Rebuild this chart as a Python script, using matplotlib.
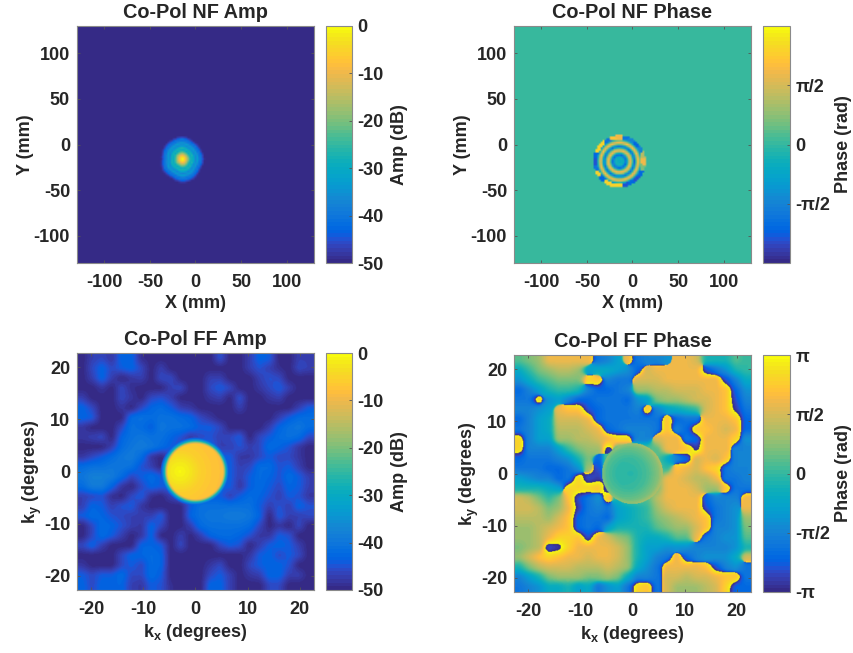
import numpy as np
import matplotlib
matplotlib.use("Agg")
import matplotlib.pyplot as plt
from matplotlib.colors import ListedColormap

plt.rcParams["font.family"] = ["Liberation Sans", "DejaVu Sans"]
plt.rcParams["font.weight"] = "bold"
plt.rcParams["axes.unicode_minus"] = False
plt.rcParams["mathtext.fontset"] = "custom"
plt.rcParams["mathtext.rm"] = "Liberation Sans:bold"
plt.rcParams["mathtext.bf"] = "Liberation Sans:bold"
plt.rcParams["mathtext.default"] = "bf"

# ---------- values ----------
nf_ticks = [-100, -50, 0, 50, 100]
ff_ticks = [-20, -10, 0, 10, 20]
amp_ticks = [-50, -40, -30, -20, -10, 0]

# far-field amplitude background: attenuation in dB, rows top to bottom
ff_amp_atten = [
 [50,47,46,48,43,43,49,50,50,50,50,50,50,50,45,50,50,47,43,44,50,50,47,47],
 [50,46,43,46,44,43,46,50,47,50,50,50,50,50,50,50,50,47,45,47,49,50,46,47],
 [50,47,43,47,50,48,47,50,46,46,50,50,50,47,47,50,50,50,47,45,46,50,50,50],
 [50,50,48,50,46,49,50,50,50,47,46,50,50,46,44,46,50,50,48,46,44,47,50,50],
 [47,50,50,50,46,48,50,46,45,47,50,50,50,48,47,50,45,50,50,48,47,50,50,50],
 [43,46,50,50,48,50,46,43,42,44,47,48,50,50,50,50,47,50,50,50,50,50,47,44],
 [43,44,50,50,50,42,41,42,41,41,42,43,46,48,50,50,50,50,50,50,47,44,42,42],
 [48,50,50,50,46,41,42,44,40,41,41,42,44,44,46,50,50,50,50,47,43,41,40,42],
 [48,47,46,50,43,41,40,41,41,43,45,48,46,45,47,46,44,50,46,44,42,41,42,46],
 [50,50,50,47,42,40,39,40,42,44,46,44,42,43,47,47,45,47,46,42,43,45,48,50],
 [48,46,44,42,40,39,42,48,50,46,44,44,44,44,44,44,48,48,46,44,46,46,48,50],
 [42,41,41,40,40,41,45,47,50,46,44,44,44,44,44,44,47,46,42,42,45,44,47,50],
 [40,38,38,39,42,46,44,42,44,43,44,44,44,44,44,44,47,44,42,43,45,42,44,47],
 [42,39,39,43,48,50,46,43,44,44,44,44,44,44,44,44,48,44,42,44,46,43,44,47],
 [47,46,45,49,50,46,44,49,50,47,44,44,44,44,44,47,44,42,43,45,47,44,45,48],
 [47,43,44,47,45,44,48,50,50,50,50,44,41,41,41,41,41,41,44,47,45,47,43,45],
 [44,42,43,45,46,47,47,47,44,50,50,43,41,40,40,39,39,40,43,50,44,47,47,46],
 [50,46,42,43,45,47,48,43,46,50,50,47,42,41,41,41,41,42,46,50,48,50,46,50],
 [50,46,42,44,47,50,48,43,50,50,47,50,47,43,42,42,43,45,48,48,44,45,50,50],
 [46,43,47,50,50,50,43,43,44,50,46,50,50,50,46,44,45,50,47,44,43,44,47,50],
 [50,50,50,50,46,43,43,42,43,50,50,50,50,50,50,50,50,48,44,43,46,44,46,50],
 [48,50,50,50,46,44,46,42,43,50,50,50,50,48,46,50,50,46,44,43,43,45,50,50],
 [44,46,44,44,42,46,46,42,44,50,50,50,50,46,44,47,50,48,47,43,43,47,47,50],
 [43,46,43,43,43,47,48,44,45,49,50,50,50,43,43,47,50,50,50,46,46,50,50,50],
]
# far-field main lobe: edge roll-off and plateau (dB)
lobe_radius = [0.0, 5.3, 5.6, 5.9, 6.2, 6.6, 7.3]
lobe_rolloff = [0.0, 0.0, -10.0, -22.0, -32.0, -40.0, -60.0]
hotspot_dist = [0.0, 2.0, 4.0, 6.0, 8.0, 11.0]
hotspot_db = [-0.5, -2.5, -5.5, -7.0, -8.0, -9.0]

# far-field phase background: tenths of pi, rows top to bottom
ff_phase_tenths = [
 [1,2,3,6,6,6,6,6,-6,-5,-3,6,-6,-5,-5,-4,6,6,5,-1,-1,-1,1,0],
 [-2,0,2,3,4,4,3,-3,-2,-2,-3,-4,-7,5,6,6,6,6,6,-8,-6,-4,-1,0],
 [-4,-2,0,1,2,2,2,8,7,-5,-6,-6,5,5,5,6,6,6,6,6,6,-8,-5,-2],
 [-7,-5,-3,-1,0,0,-1,-5,-7,-7,-6,-5,3,3,4,4,5,5,5,6,6,7,-7,-4],
 [-6,-6,8,-4,-3,-5,-7,-7,-6,-6,-6,-7,-4,-3,2,3,3,4,5,5,6,7,-8,-5],
 [-5,-5,-4,-3,6,7,7,-8,-7,-6,-6,-6,-5,7,-5,-3,-2,-1,0,5,6,7,-9,-6],
 [-7,-5,-3,-2,5,5,5,6,-7,-6,-6,-6,-6,-6,-6,7,-7,-6,-6,6,6,6,7,-7],
 [-6,-5,-3,-2,4,4,4,5,6,-7,-6,-5,-5,-5,-6,7,-5,-7,7,7,6,5,6,-7],
 [8,-5,-3,-3,3,3,4,4,5,6,8,8,-5,-5,5,6,6,-6,-7,6,6,6,8,-4],
 [8,-5,-5,-5,-3,0,2,3,3,-9,1,1,1,1,1,6,6,7,-9,6,6,6,-5,-5],
 [-7,-6,-6,-6,-5,-4,-1,2,-7,1,1,1,1,1,1,-2,-5,-7,5,6,5,7,-5,-5],
 [-6,-6,-6,-7,-7,-6,-4,3,-8,1,1,1,1,1,1,0,7,6,5,7,8,-6,-5,-5],
 [-3,-4,-5,-5,-7,-6,8,-8,-9,0,0,1,1,1,2,6,6,5,4,4,6,-6,-6,-5],
 [-1,-1,-1,-2,-3,8,8,8,7,-8,1,1,1,1,2,6,6,6,5,3,3,7,-6,-6],
 [5,4,2,0,2,7,-8,-6,-4,7,-1,1,1,1,4,6,6,6,6,-7,-5,-5,-5,6],
 [5,5,4,2,3,6,-9,-6,-5,-6,-3,-2,-1,0,3,5,6,6,6,-8,-6,-5,-4,6],
 [4,4,4,3,5,7,-7,-6,-6,-7,-3,-2,-1,0,2,3,4,5,6,7,-6,-5,-4,3],
 [3,3,4,5,6,7,-7,-6,-7,-3,-1,-1,-1,-1,1,2,3,3,5,7,-5,-5,-4,2],
 [3,3,4,6,8,8,7,-8,6,5,3,2,-1,-2,-2,-1,1,1,6,-6,-5,-4,-4,1],
 [2,3,4,-8,-9,8,6,6,6,6,5,3,-1,-3,-3,-4,-4,-4,-5,-5,-5,-5,-4,-1],
 [3,5,7,8,7,6,6,5,6,6,5,3,-1,-3,-5,-6,6,-7,-5,-4,-4,-4,-2,5],
 [-1,2,4,5,5,5,4,4,4,5,4,3,-2,-4,-6,6,6,6,6,7,-8,-5,-4,-6],
 [-5,-3,-1,2,3,3,3,2,2,3,2,-2,-5,-5,-6,5,5,4,5,5,6,7,7,-6],
 [-6,-5,-4,-2,-2,-1,-3,-2,-6,-4,-3,-6,8,7,-6,5,3,3,3,4,5,8,-7,-7],
]
disc_phase_radius = [0.0, 3.0, 5.0, 5.85]
disc_phase_tenths = [-1.0, -0.3, 1.0, 2.5]
disc_phase_x = [-6.0, 6.0]
disc_phase_tilt = [-0.3, 1.5]

# near-field amplitude radial profile around the spot
nf_amp_radius = [0, 2, 3.7, 7.3, 9.5, 11.7, 14.6, 16.8, 19, 21, 22.7, 24, 25]
nf_amp_db = [0, -3, -9, -22, -30, -27, -37, -33, -40, -40, -46, -48, -50]
nf_angle_deg = [0, 30, 60, 90, 120, 150, 180, 210, 240, 270, 300, 330, 360]
nf_amp_edge = [21, 20, 20, 22, 21, 21, 20, 22, 21, 23, 22, 20, 21]

# near-field phase radial profile and the broken outer ring (one entry per 15 degrees)
nf_phase_radius = [0, 4.4, 7.3, 9.5, 11.7, 13.9, 16.5, 18.3, 20.5, 22.7, 24.9]
nf_phase_tenths = [-2, -1, -7, 0, 6.5, 3, -7, 0, 7, 2, -5]
nf_rim_tenths = [6, 4, -5, -7, -5, -6, 6, 7, -6, 8, 8, -7,
                 -8, -6, 8, -7, 8, 8, 8, -8, -7, -8, -7, 2]
nf_outer_background_phase = 0.2
nf_spot_amp = (-14.5, -16.0)
nf_spot_phase = (-14.5, -18.7)
nf_disc_radius = 29.0

# ---------- parula colormap ----------
parula = ListedColormap([
 [.2081,.1663,.5292],[.2116,.1898,.5777],[.2123,.2138,.6270],[.2081,.2386,.6771],
 [.1959,.2645,.7279],[.1707,.2919,.7792],[.1253,.3242,.8303],[.0591,.3598,.8683],
 [.0117,.3875,.8820],[.0060,.4086,.8828],[.0165,.4266,.8786],[.0329,.4430,.8720],
 [.0498,.4586,.8641],[.0629,.4737,.8554],[.0723,.4887,.8467],[.0779,.5040,.8384],
 [.0793,.5200,.8312],[.0749,.5375,.8263],[.0641,.5570,.8240],[.0488,.5772,.8228],
 [.0343,.5966,.8199],[.0265,.6137,.8135],[.0239,.6287,.8038],[.0231,.6418,.7913],
 [.0228,.6535,.7768],[.0267,.6642,.7607],[.0384,.6743,.7436],[.0590,.6838,.7254],
 [.0843,.6928,.7062],[.1133,.7015,.6859],[.1453,.7098,.6646],[.1801,.7177,.6424],
 [.2178,.7250,.6193],[.2586,.7317,.5954],[.3022,.7376,.5712],[.3482,.7424,.5473],
 [.3953,.7459,.5244],[.4420,.7481,.5033],[.4871,.7491,.4840],[.5300,.7491,.4661],
 [.5709,.7485,.4494],[.6099,.7473,.4337],[.6473,.7456,.4188],[.6834,.7435,.4044],
 [.7184,.7411,.3905],[.7525,.7384,.3768],[.7858,.7356,.3633],[.8185,.7327,.3498],
 [.8507,.7299,.3360],[.8824,.7274,.3217],[.9139,.7258,.3063],[.9450,.7261,.2886],
 [.9739,.7314,.2666],[.9938,.7455,.2403],[.9990,.7653,.2164],[.9955,.7861,.1967],
 [.9880,.8066,.1794],[.9789,.8271,.1633],[.9697,.8481,.1475],[.9626,.8705,.1309],
 [.9589,.8949,.1132],[.9598,.9218,.0948],[.9661,.9514,.0755],[.9763,.9831,.0538]])

# ---------- helpers ----------
W, H = 854, 653
TXT = "#262626"
FF_LIM = 22.7
NF_LIM = 130.0
fig = plt.figure(figsize=(W / 100, H / 100), dpi=100)


def px_axes(x0, y0, x1, y1):
    return fig.add_axes([x0 / W, 1 - y1 / H, (x1 - x0) / W, (y1 - y0) / H])


def refine(table, lim, n=360, blur=7):
    table = np.asarray(table, float)[::-1]
    m = table.shape[0]
    src = -lim + (np.arange(m) + 0.5) * 2 * lim / m
    dst = np.linspace(-lim, lim, n)
    a = np.array([np.interp(dst, src, r) for r in table])
    a = np.array([np.interp(dst, src, c) for c in a.T]).T
    k = np.ones(blur) / blur
    pad = blur // 2
    a = np.pad(a, pad, mode="edge")
    a = np.apply_along_axis(lambda v: np.convolve(v, k, mode="same"), 0, a)
    a = np.apply_along_axis(lambda v: np.convolve(v, k, mode="same"), 1, a)
    return a[pad:-pad, pad:-pad], dst


def style(ax, lim, ticks, title, xlabel, ylabel):
    ax.set_xlim(-lim, lim)
    ax.set_ylim(-lim, lim)
    ax.set_xticks(ticks)
    ax.set_yticks(ticks)
    ax.set_aspect("auto")
    ax.tick_params(direction="in", length=2.5, width=0.6, color="#555555", top=True,
                   right=True, labelsize=13, labelcolor=TXT)
    ax.tick_params(axis="x", pad=8)
    ax.tick_params(axis="y", pad=5)
    for s in ax.spines.values():
        s.set_color("#8a8a8a")
        s.set_linewidth(0.8)
    ax.set_title(title, fontsize=14.3, fontweight="bold", color=TXT, pad=5.5)
    ax.set_xlabel(xlabel, fontsize=13, fontweight="bold", color=TXT, labelpad=3)
    ax.set_ylabel(ylabel, fontsize=13, fontweight="bold", color=TXT, labelpad=0)


def colorbar(im, rect, ticks, labels, label, labelpad):
    cax = px_axes(*rect)
    cb = fig.colorbar(im, cax=cax)
    cb.set_ticks(ticks)
    cb.set_ticklabels(labels)
    cax.tick_params(direction="in", length=2.5, width=0.6, color="#555555",
                    labelsize=13, labelcolor=TXT, pad=4)
    cb.outline.set_edgecolor("#8a8a8a")
    cb.outline.set_linewidth(0.8)
    cb.set_label(label, fontsize=13, fontweight="bold", color=TXT, labelpad=labelpad)


# ---------- near-field fields ----------
nf_axis = np.arange(-130, 130.01, 2.0)
NX, NY = np.meshgrid(nf_axis, nf_axis)

dx, dy = NX - nf_spot_amp[0], NY - nf_spot_amp[1]
rad = np.hypot(dx, dy)
ang = np.degrees(np.arctan2(dy, dx)) % 360
edge = np.interp(ang, nf_angle_deg, nf_amp_edge)
nf_amp = np.interp(rad * 21.0 / edge, nf_amp_radius, nf_amp_db, right=-50)

dx, dy = NX - nf_spot_phase[0], NY - nf_spot_phase[1]
rad = np.hypot(dx, dy)
ang = np.degrees(np.arctan2(dy, dx)) % 360
nf_phase = np.interp(rad, nf_phase_radius, nf_phase_tenths)
rim_index = np.round(ang / 15).astype(int) % len(nf_rim_tenths)
rim = np.asarray(nf_rim_tenths, float)[rim_index]
nf_phase = np.where(rad > 24.5, rim, nf_phase)
nf_phase = np.where(rad > nf_disc_radius, nf_outer_background_phase, nf_phase) * np.pi / 10

# ---------- far-field fields ----------
amp_bg, ff_axis = refine(-np.asarray(ff_amp_atten, float), FF_LIM)
FX, FY = np.meshgrid(ff_axis, ff_axis)
rad = np.hypot(FX, FY)
plateau = np.interp(np.hypot(FX + 3.0, FY), hotspot_dist, hotspot_db)
lobe = plateau + np.interp(rad, lobe_radius, lobe_rolloff)
ff_amp = np.maximum(amp_bg, lobe)

phi = np.asarray(ff_phase_tenths, float) * np.pi / 10
c_part, _ = refine(np.cos(phi), FF_LIM)
s_part, _ = refine(np.sin(phi), FF_LIM)
ff_phase = np.arctan2(s_part, c_part)
disc = (np.interp(rad, disc_phase_radius, disc_phase_tenths)
        + np.interp(FX, disc_phase_x, disc_phase_tilt)) * np.pi / 10
ff_phase = np.where(rad < 5.85, disc, ff_phase)

# ---------- panels ----------
pi_ticks = [-np.pi, -np.pi / 2, 0, np.pi / 2, np.pi]
pi_labels = ["-\u03c0", "-\u03c0/2", "0", "\u03c0/2", "\u03c0"]

ax = px_axes(77, 26, 314, 263)
im = ax.imshow(nf_amp, origin="lower", extent=[-NF_LIM, NF_LIM, -NF_LIM, NF_LIM],
               cmap=parula, vmin=-50, vmax=0, interpolation="bilinear")
style(ax, NF_LIM, nf_ticks, "Co-Pol NF Amp", "X (mm)", "Y (mm)")
colorbar(im, (326, 26, 352, 263), amp_ticks, [str(t) for t in amp_ticks], "Amp (dB)", 5)

ax = px_axes(514, 26, 751, 263)
im = ax.imshow(nf_phase, origin="lower", extent=[-NF_LIM, NF_LIM, -NF_LIM, NF_LIM],
               cmap=parula, vmin=-np.pi, vmax=np.pi, interpolation="bilinear")
style(ax, NF_LIM, nf_ticks, "Co-Pol NF Phase", "X (mm)", "Y (mm)")
colorbar(im, (763, 26, 790, 263), pi_ticks[1:4], pi_labels[1:4], "Phase (rad)", 3)

ax = px_axes(77, 353, 314, 590)
im = ax.imshow(ff_amp, origin="lower", extent=[-FF_LIM, FF_LIM, -FF_LIM, FF_LIM],
               cmap=parula, vmin=-50, vmax=0, interpolation="bilinear")
style(ax, FF_LIM, ff_ticks, "Co-Pol FF Amp", r"k$_{\mathbf{x}}$ (degrees)", r"k$_{\mathbf{y}}$ (degrees)")
colorbar(im, (326, 353, 352, 590), amp_ticks, [str(t) for t in amp_ticks], "Amp (dB)", 5)

ax = px_axes(514, 355, 751, 592)
im = ax.imshow(ff_phase, origin="lower", extent=[-FF_LIM, FF_LIM, -FF_LIM, FF_LIM],
               cmap=parula, vmin=-np.pi, vmax=np.pi, interpolation="bilinear")
style(ax, FF_LIM, ff_ticks, "Co-Pol FF Phase", r"k$_{\mathbf{x}}$ (degrees)", r"k$_{\mathbf{y}}$ (degrees)")
colorbar(im, (763, 355, 790, 592), pi_ticks, pi_labels, "Phase (rad)", 3)

fig.savefig("out.png", dpi=100)
